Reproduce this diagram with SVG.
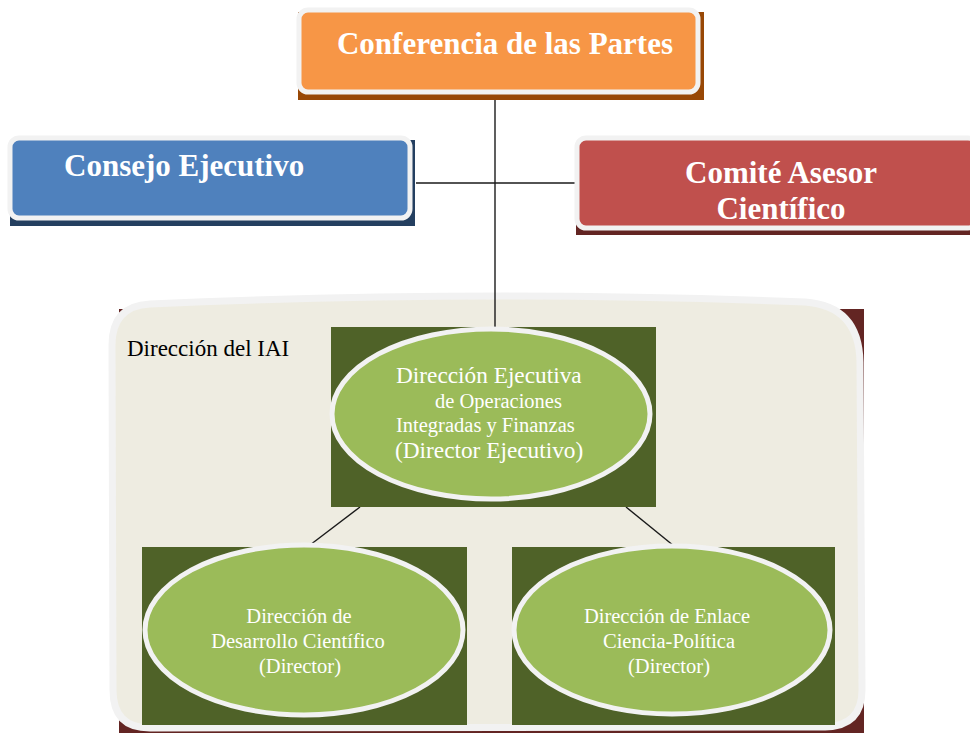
<svg xmlns="http://www.w3.org/2000/svg" width="970" height="733" viewBox="0 0 970 733">
<style>
.bx{stroke:#F2F2F2;stroke-width:5}
.hd{font-family:"Liberation Serif",serif;font-weight:bold;fill:#fff;font-size:31px}
.el{fill:#9BBB59;stroke:#F2F2F2;stroke-width:5}
.sq{fill:#4F6228}
.t{font-family:"Liberation Serif",serif;fill:#fff}
.lbl{font-family:"Liberation Serif",serif;fill:#000;font-size:23px}
.s{font-size:20.5px}
.b{font-size:23.3px}
.ln{stroke:#1a1a1a;stroke-width:1.4;fill:none}
</style>
<rect width="970" height="733" fill="#fff"/>
<g id="container">
<rect x="119" y="309" width="745" height="424" fill="#632523"/>
<path d="M150,304 Q480,289 805,302 Q859,306 860,362 L862,690 Q862,726 825,727 L150,728 Q113,728 113,690 L112,345 Q112,306 150,304 Z" fill="#EEECE1" stroke="#F2F2F2" stroke-width="7"/>
<text class="lbl" x="127" y="356">Dirección del IAI</text>
</g>
<g id="connectors">
<line class="ln" x1="495" y1="100" x2="495" y2="327"/>
<line class="ln" x1="416" y1="183" x2="577" y2="183"/>
<line class="ln" x1="360" y1="507" x2="310" y2="545"/>
<line class="ln" x1="626" y1="507" x2="674" y2="546"/>
</g>
<g id="conferencia">
<rect x="298" y="12" width="406" height="88" fill="#984806"/>
<rect class="bx" x="299" y="10" width="399" height="82" rx="9" fill="#F79646"/>
<text class="hd" x="505" y="54" text-anchor="middle">Conferencia de las Partes</text>
</g>
<g id="consejo">
<rect x="10" y="140" width="405" height="86" fill="#243F60"/>
<rect class="bx" x="10" y="138" width="400" height="80" rx="9" fill="#4F81BD"/>
<text class="hd" x="64" y="176">Consejo Ejecutivo</text>
</g>
<g id="comite">
<rect x="576" y="142" width="400" height="93" fill="#632523"/>
<rect class="bx" x="577" y="138" width="400" height="90" rx="9" fill="#C0504D"/>
<text class="hd" x="781" y="183" text-anchor="middle">Comité Asesor</text>
<text class="hd" x="781" y="219" text-anchor="middle">Científico</text>
</g>
<g id="ejecutiva">
<rect class="sq" x="331" y="327" width="325" height="180"/>
<ellipse class="el" cx="491" cy="414" rx="159" ry="85"/>
<text class="t b" x="396" y="383">Dirección Ejecutiva</text>
<text class="t s" x="435" y="408">de Operaciones</text>
<text class="t s" x="396" y="432">Integradas y Finanzas</text>
<text class="t b" x="395" y="458">(Director Ejecutivo)</text>
</g>
<g id="desarrollo">
<rect class="sq" x="142" y="547" width="325" height="178"/>
<ellipse class="el" cx="304" cy="630" rx="159" ry="85"/>
<text class="t s" x="299" y="623" text-anchor="middle">Dirección de</text>
<text class="t s" x="298" y="648" text-anchor="middle">Desarrollo Científico</text>
<text class="t s" x="300" y="673" text-anchor="middle">(Director)</text>
</g>
<g id="enlace">
<rect class="sq" x="512" y="547" width="323" height="178"/>
<ellipse class="el" cx="672" cy="630" rx="158" ry="84"/>
<text class="t s" x="667" y="623" text-anchor="middle">Dirección de Enlace</text>
<text class="t s" x="669" y="648" text-anchor="middle">Ciencia-Política</text>
<text class="t s" x="669" y="673" text-anchor="middle">(Director)</text>
</g>
</svg>
